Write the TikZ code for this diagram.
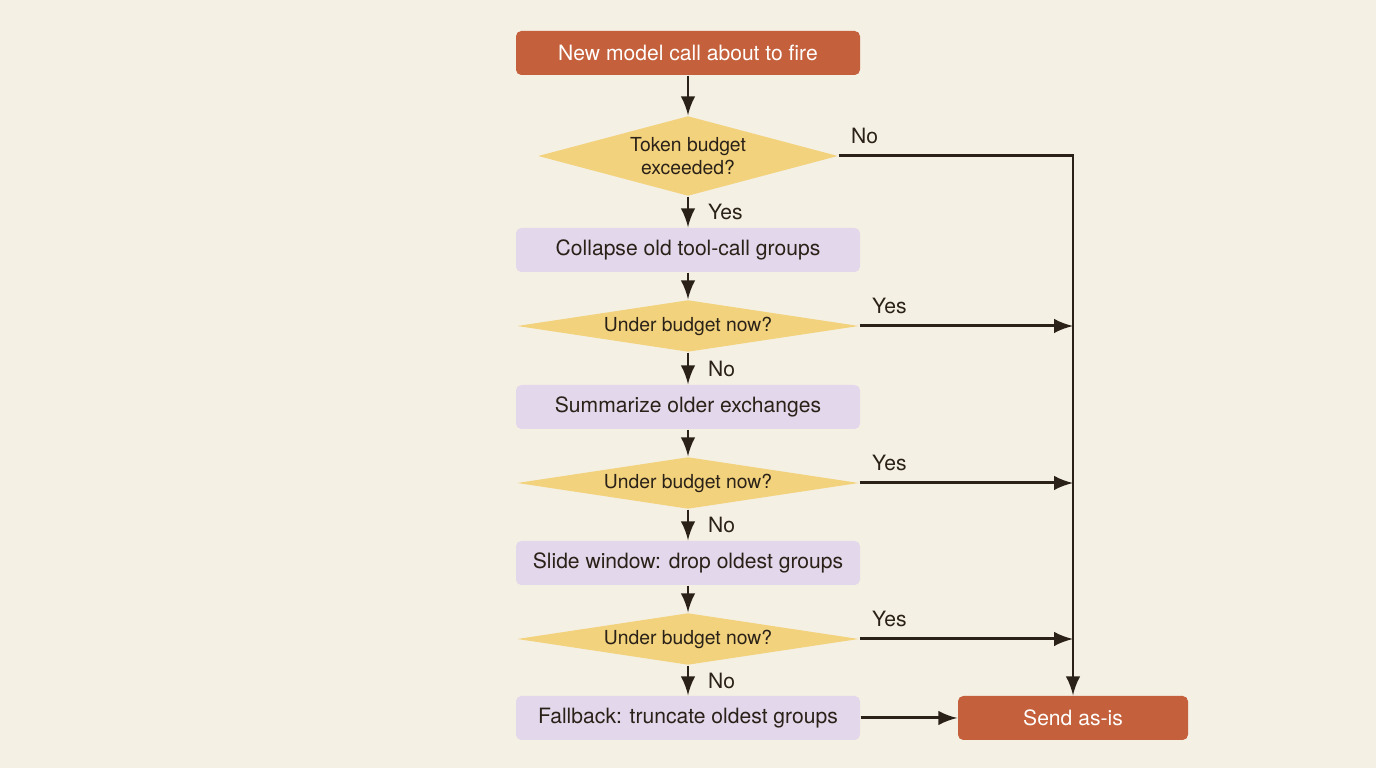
\documentclass[tikz,border=0pt]{standalone}
\usepackage{fontspec}
\setmainfont{TeX Gyre Heros}
\usepackage{xcolor}
\usetikzlibrary{shapes,arrows,positioning,calc}
\definecolor{bgc}{HTML}{F5F0E4}
\definecolor{startc}{HTML}{C4603B}
\definecolor{stepc}{HTML}{E2D7EB}
\definecolor{askc}{HTML}{F2D27C}
\definecolor{linec}{HTML}{2A2118}
\begin{document}
\begin{tikzpicture}[
    term/.style={rectangle, rounded corners=1.5pt, minimum width=3.44cm, minimum height=0.44cm, fill=startc, text=white, font=\fontsize{6}{7}\selectfont},
    act/.style={rectangle, rounded corners=1.5pt, minimum width=3.44cm, minimum height=0.44cm, fill=stepc, text=linec, font=\fontsize{6}{7}\selectfont},
    ask/.style={diamond, aspect=6.5, inner sep=0pt, minimum width=3.42cm, minimum height=0.52cm, fill=askc, text=linec, font=\fontsize{5.5}{6.5}\selectfont, align=center},
    flow/.style={-latex, draw=linec, line width=0.85pt},
    lbl/.style={font=\fontsize{6}{7}\selectfont, text=linec}
]
    \fill[bgc] (0,0) rectangle (13.76,7.68);

    % Main column
    \node[term] (start) at (6.88,7.15) {New model call about to fire};
    \node[ask, minimum width=3.0cm, minimum height=0.8cm, aspect=3.75] (q1) at (6.88,6.12) {Token budget\\exceeded?};
    \node[act] (collapse) at (6.88,5.18) {Collapse old tool-call groups};
    \node[ask] (q2) at (6.88,4.42) {Under budget now?};
    \node[act] (summ) at (6.88,3.61) {Summarize older exchanges};
    \node[ask] (q3) at (6.88,2.85) {Under budget now?};
    \node[act] (slide) at (6.88,2.05) {Slide window: drop oldest groups};
    \node[ask] (q4) at (6.88,1.29) {Under budget now?};
    \node[act] (fallback) at (6.88,0.50) {Fallback: truncate oldest groups};

    % Exit
    \node[term, minimum width=2.3cm] (send) at (10.73,0.50) {Send as-is};
    \coordinate (top) at (10.73,6.12);
    \coordinate (j2) at (10.73,4.42);
    \coordinate (j3) at (10.73,2.85);
    \coordinate (j4) at (10.73,1.29);

    % Edges
    \draw[flow] (start) -- (q1);
    \draw[flow] (q1) -- (collapse) node[lbl, midway, right=2pt] {Yes};
    \draw[flow] (collapse) -- (q2);
    \draw[flow] (q2) -- (summ) node[lbl, midway, right=2pt] {No};
    \draw[flow] (summ) -- (q3);
    \draw[flow] (q3) -- (slide) node[lbl, midway, right=2pt] {No};
    \draw[flow] (slide) -- (q4);
    \draw[flow] (q4) -- (fallback) node[lbl, midway, right=2pt] {No};
    \draw[flow] (fallback) -- (send);
    \draw[flow] (q1.east) -- (top) -- (send.north);
    \draw[flow] (q2.east) -- (j2);
    \draw[flow] (q3.east) -- (j3);
    \draw[flow] (q4.east) -- (j4);

    % Labels
    \node[lbl, anchor=south west] at (q1.east) {No};
    \node[lbl, anchor=south west] at (q2.east) {Yes};
    \node[lbl, anchor=south west] at (q3.east) {Yes};
    \node[lbl, anchor=south west] at (q4.east) {Yes};
\end{tikzpicture}
\end{document}
